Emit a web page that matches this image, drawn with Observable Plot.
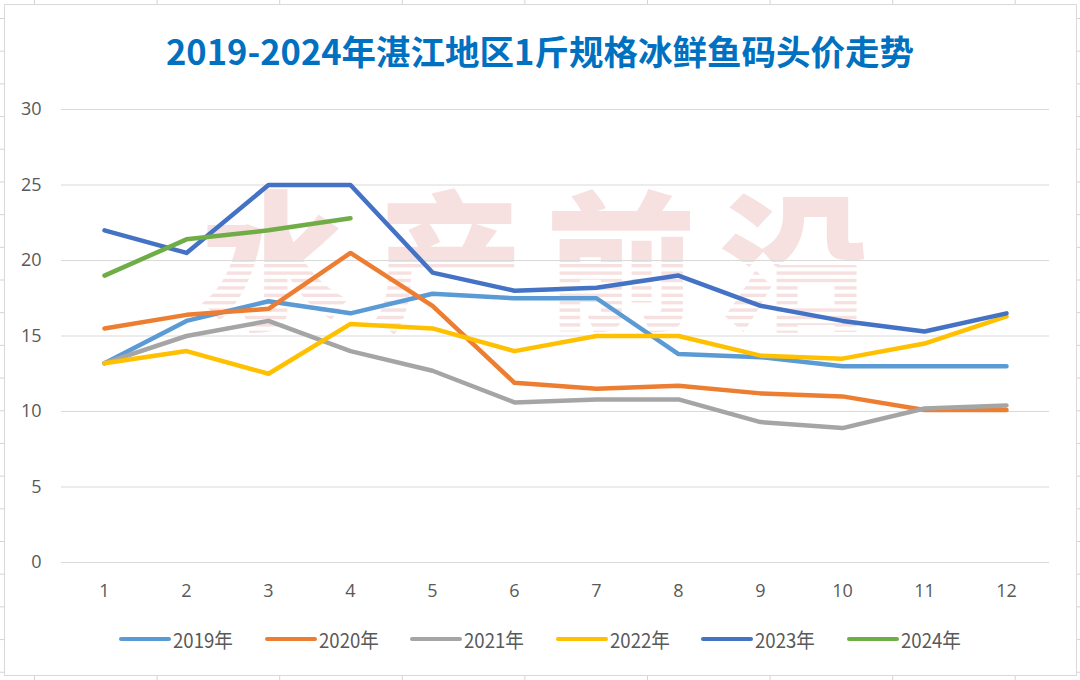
<!DOCTYPE html>
<html>
<head>
<meta charset="utf-8">
<script src="https://cdn.jsdelivr.net/npm/d3@7"></script>
<script src="https://cdn.jsdelivr.net/npm/@observablehq/plot@0.6"></script>
<style>
  html, body { margin: 0; padding: 0; background: #fff; }
  #sheet {
    position: relative; width: 1080px; height: 680px; overflow: hidden;
    background-color: #fff;
    background-image:
      linear-gradient(to right, #d4d4d4 1px, transparent 1px),
      linear-gradient(to bottom, #d4d4d4 1px, transparent 1px);
    background-size: 122.6px 100%, 100% 32.7px;
    background-position: 34px 0, 0 18px;
  }
  #frame {
    position: absolute; left: 4px; top: 4px; width: 1073px; height: 672px;
    box-sizing: border-box; border: 1px solid #d9d9d9; background: #fff;
  }
  #chart { position: absolute; left: 0; top: 0; }
  #title {
    position: absolute; left: 0; top: 30px; width: 1080px; text-align: center;
    font-family: "Noto Sans CJK SC", sans-serif; font-weight: 700;
    font-size: 34.5px; line-height: 40px; color: #0070C0;
  }
  #legend {
    position: absolute; left: 119px; top: 626px; height: 26px;
    display: flex; align-items: center;
    font-family: "Noto Sans CJK SC", sans-serif; font-size: 20px; color: #595959;
  }
  #legend .item { display: flex; align-items: center; width: 145.6px; }
  #legend .sw { width: 52px; height: 4.5px; border-radius: 3px; margin-right: 2px; }
  #legend .lbl { display: inline-block; transform: scaleX(0.93); transform-origin: left center; }
</style>
</head>
<body>
<div id="sheet">
  <div id="frame"></div>
  <div id="chart"></div>
  <div id="title">2019-2024年湛江地区1斤规格冰鲜鱼码头价走势</div>
  <div id="legend"></div>
</div>
<script>
// Months on the horizontal axis
const months = [1, 2, 3, 4, 5, 6, 7, 8, 9, 10, 11, 12];
// Price ticks on the vertical axis (元/斤)
const yTicks = [0, 5, 10, 15, 20, 25, 30];

// Series names and colours
const years = ["2019年", "2020年", "2021年", "2022年", "2023年", "2024年"];
const colors = ["#5B9BD5", "#ED7D31", "#A5A5A5", "#FFC000", "#4472C4", "#70AD47"];

// Monthly dock prices per year
const p2019 = [13.2, 16.0, 17.3, 16.5, 17.8, 17.5, 17.5, 13.8, 13.6, 13.0, 13.0, 13.0];
const p2020 = [15.5, 16.4, 16.8, 20.5, 17.0, 11.9, 11.5, 11.7, 11.2, 11.0, 10.1, 10.1];
const p2021 = [13.2, 15.0, 16.0, 14.0, 12.7, 10.6, 10.8, 10.8, 9.3, 8.9, 10.2, 10.4];
const p2022 = [13.2, 14.0, 12.5, 15.8, 15.5, 14.0, 15.0, 15.0, 13.7, 13.5, 14.5, 16.3];
const p2023 = [22.0, 20.5, 25.0, 25.0, 19.2, 18.0, 18.2, 19.0, 17.0, 16.0, 15.3, 16.5];
const p2024 = [19.0, 21.4, 22.0, 22.8];

const series = [p2019, p2020, p2021, p2022, p2023, p2024];
const rows = years.flatMap((yr, i) =>
  series[i].map((v, j) => ({ year: yr, month: months[j], price: v }))
);

const W = 1080, H = 680;
const chart = Plot.plot({
  width: W,
  height: H,
  marginTop: 109,
  marginBottom: 118,
  marginLeft: 61,
  marginRight: 31,
  style: {
    background: "transparent",
    fontFamily: "'Open Sans', 'Noto Sans', sans-serif",
    fontSize: "18px",
    color: "#595959"
  },
  x: { type: "point", domain: months, padding: 0.5, label: null },
  y: { domain: [0, 30], label: null },
  color: { domain: years, range: colors },
  marks: [
    Plot.gridY(yTicks, { stroke: "#d9d9d9", strokeOpacity: 1, strokeWidth: 1.2 }),
    Plot.axisY(yTicks, { tickSize: 0, tickPadding: 20, label: null, fill: "#595959" }),
    Plot.axisX(months, { tickSize: 0, tickPadding: 22, label: null, fill: "#595959" }),
    Plot.line(rows, {
      x: "month", y: "price", z: "year", stroke: "year",
      strokeWidth: 4.5, strokeLinecap: "round", strokeLinejoin: "round"
    })
  ]
});
document.getElementById("chart").appendChild(chart);

// Faint brand watermark behind the plot: solid upper half, striped lower half
(function addWatermark() {
  const ns = "http://www.w3.org/2000/svg";
  const g = document.createElementNS(ns, "g");
  const defs = document.createElementNS(ns, "defs");
  const pat = document.createElementNS(ns, "pattern");
  pat.setAttribute("id", "wm-fill");
  pat.setAttribute("patternUnits", "userSpaceOnUse");
  pat.setAttribute("x", 0); pat.setAttribute("y", 0);
  pat.setAttribute("width", W); pat.setAttribute("height", H);
  const pink = "#f7e0e0";
  const solid = document.createElementNS(ns, "rect");
  solid.setAttribute("x", 0); solid.setAttribute("y", 0);
  solid.setAttribute("width", W); solid.setAttribute("height", 262);
  solid.setAttribute("fill", pink);
  pat.appendChild(solid);
  for (let y = 264; y < 345; y += 7.4) {
    const r = document.createElementNS(ns, "rect");
    r.setAttribute("x", 0); r.setAttribute("y", y);
    r.setAttribute("width", W); r.setAttribute("height", 3.4);
    r.setAttribute("fill", pink);
    pat.appendChild(r);
  }
  defs.appendChild(pat);
  g.appendChild(defs);
  const t = document.createElementNS(ns, "text");
  t.setAttribute("x", 200);
  t.setAttribute("y", 318);
  t.setAttribute("text-anchor", "start");
  t.setAttribute("fill", "url(#wm-fill)");
  t.setAttribute("font-family", "'Noto Sans CJK SC', sans-serif");
  t.setAttribute("font-weight", "900");
  t.setAttribute("font-size", "150");
  t.setAttribute("letter-spacing", "23");
  t.textContent = "水产前沿";
  g.appendChild(t);
  chart.insertBefore(g, chart.firstChild);
})();

// Legend below the plot
const legend = document.getElementById("legend");
years.forEach((yr, i) => {
  const item = document.createElement("div");
  item.className = "item";
  if (i === years.length - 1) item.style.width = "auto";
  const sw = document.createElement("span");
  sw.className = "sw";
  sw.style.background = colors[i];
  const lbl = document.createElement("span");
  lbl.className = "lbl";
  lbl.textContent = yr;
  item.appendChild(sw);
  item.appendChild(lbl);
  legend.appendChild(item);
});
</script>
</body>
</html>
